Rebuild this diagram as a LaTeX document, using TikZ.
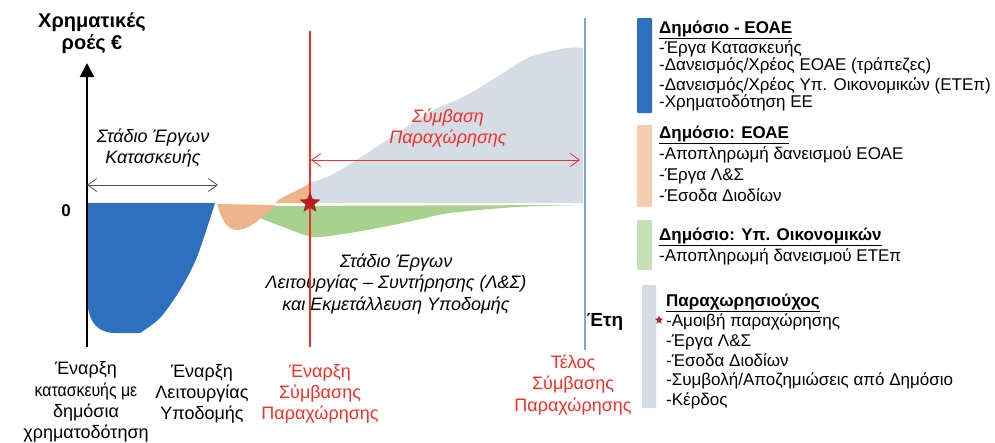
\documentclass[tikz,border=0pt]{standalone}
\usepackage{fontspec}
\setmainfont{Liberation Sans}
\usetikzlibrary{arrows.meta,shapes.geometric}

\definecolor{eoaeblue}{RGB}{46,112,190}
\definecolor{eoaepeach}{RGB}{237,180,140}
\definecolor{barpeach}{RGB}{246,204,174}
\definecolor{finegreen}{RGB}{169,209,142}
\definecolor{bargreen}{RGB}{197,224,180}
\definecolor{concgray}{RGB}{214,220,229}
\definecolor{concred}{RGB}{236,50,40}
\definecolor{stardred}{RGB}{185,30,30}
\definecolor{yearblue}{RGB}{125,167,207}
\definecolor{stagenavy}{RGB}{68,84,106}

\tikzset{
  stagetext/.style={align=center, font=\itshape\fontsize{18}{21.5}\selectfont},
  eventtext/.style={align=center, font=\fontsize{18}{21.2}\selectfont},
  legendtext/.style={align=left, anchor=north west, inner sep=0pt, font=\fontsize{17}{19.8}\selectfont},
  legendbar/.style={rounded corners=1pt},
  twoway/.style={{Straight Barb[length=9pt,width=13pt]}-{Straight Barb[length=9pt,width=13pt]}, line width=0.8pt}
}

\begin{document}
\begin{tikzpicture}[x=1pt,y=-1pt]
\useasboundingbox (0,0) rectangle (995,442);

% cash flow areas
\fill[concgray] (310,203) -- plot[smooth] coordinates {(310,183) (337,172) (387,140) (430,112) (467,95) (500,75) (530,57) (567,48) (583,48)} -- (583,203) -- cycle;
\fill[finegreen] (262,206) -- plot[smooth] coordinates {(583,205) (517,207) (450,213) (417,220) (383,227) (350,233) (320,237) (308,236) (283,227) (260,218)} -- cycle;
\fill[eoaepeach] (275,203) .. controls (283,195) and (297,192) .. (310,183) -- (310,203) -- cycle;
\fill[eoaepeach] (217,204) .. controls (222,220) and (227,230) .. (237,230) .. controls (250,230) and (265,215) .. (275,205) -- cycle;
\fill[eoaeblue] (87,203) -- (87,298) .. controls (88,325) and (100,333) .. (115,333) -- plot[smooth] coordinates {(140,333) (160,318) (180,290) (197,257) (215,203)} -- cycle;

% axis
\coordinate (origin) at (87,347);
\coordinate (axistop) at (87,63);
\draw[-{Triangle[length=14pt,width=14pt]}, line width=2pt] (origin) -- (axistop);
\node[font=\bfseries\fontsize{20}{21.5}\selectfont, align=center] (flows) at (92,33) {Χρηματικές\\ροές €};
\node[font=\bfseries\fontsize{17}{20}\selectfont] (zero) at (66,211) {0};

% stages
\coordinate (conS) at (87,185);
\coordinate (conE) at (218,185);
\draw[twoway, stagenavy] (conS) -- (conE);
\node[stagetext] (construction) at (153,148) {Στάδιο Έργων\\Κατασκευής};

\coordinate (concS) at (311,160);
\coordinate (concE) at (580,160);
\draw[twoway, concred] (concS) -- (concE);
\node[stagetext, text=concred] (concession) at (448,128) {Σύμβαση\\Παραχώρησης};

\node[stagetext] (operation) at (396,284) {Στάδιο Έργων\\Λειτουργίας – Συντήρησης (Λ\&Σ)\\και Εκμετάλλευση Υποδομής};

% time lines
\coordinate (yearsTop) at (585,18);
\coordinate (yearsBot) at (585,350);
\draw[yearblue, line width=2.5pt] (yearsTop) -- (yearsBot);
\node[font=\bfseries\fontsize{19}{20}\selectfont] (years) at (605,322) {Έτη};

\coordinate (startTop) at (310,31);
\coordinate (startBot) at (310,347);
\draw[concred, line width=2pt] (startTop) -- (startBot);
\node[star, star points=5, star point ratio=2.3, fill=stardred, inner sep=0pt, minimum size=22pt] (fee) at (310,203) {};

% events
\node[eventtext] (ev1) at (86,402) {Έναρξη\\\scalebox{0.88}[1]{κατασκευής με}\\δημόσια\\χρηματοδότηση};
\node[eventtext] (ev2) at (202,394) {Έναρξη\\Λειτουργίας\\Υποδομής};
\node[eventtext, text=concred] (ev3) at (320,394) {Έναρξη\\Σύμβασης\\Παραχώρησης};
\node[eventtext, text=concred] (ev4) at (573,385) {Τέλος\\Σύμβασης\\Παραχώρησης};

% legend
\fill[eoaeblue, legendbar] (637,18) rectangle (652,113);
\fill[barpeach, legendbar] (637,125) rectangle (652,207);
\fill[bargreen, legendbar] (637,220) rectangle (652,270);
\fill[concgray, legendbar] (642,285) rectangle (656,408);

\node[legendtext, font=\fontsize{17}{17}\selectfont] (public) at (659,21) {\textbf{\underline{Δημόσιο - ΕΟΑΕ}}\\-Έργα Κατασκευής\\-Δανεισμός/Χρέος ΕΟΑΕ (τράπεζες)\\[3.5pt]-Δανεισμός/Χρέος Υπ. Οικονομικών (ΕΤΕπ)\\-Χρηματοδότηση ΕΕ};
\node[legendtext, font=\fontsize{17}{21}\selectfont] (publicEoae) at (659,126) {\textbf{\underline{Δημόσιο: ΕΟΑΕ}}\\-Αποπληρωμή δανεισμού ΕΟΑΕ\\-Έργα Λ\&Σ\\-Έσοδα Διοδίων};
\node[legendtext, font=\fontsize{17}{21}\selectfont] (publicMin) at (659,228) {\textbf{\underline{Δημόσιο: Υπ. Οικονομικών}}\\-Αποπληρωμή δανεισμού ΕΤΕπ};
\node[legendtext] (concessionaire) at (666,294) {\textbf{\underline{Παραχωρησιούχος}}\\-Αμοιβή παραχώρησης\\-Έργα Λ\&Σ\\-Έσοδα Διοδίων\\-Συμβολή/Αποζημιώσεις από Δημόσιο\\-Κέρδος};
\node[star, star points=5, star point ratio=2.3, fill=stardred, inner sep=0pt, minimum size=9pt] (feeKey) at (659,320) {};
\end{tikzpicture}
\end{document}
